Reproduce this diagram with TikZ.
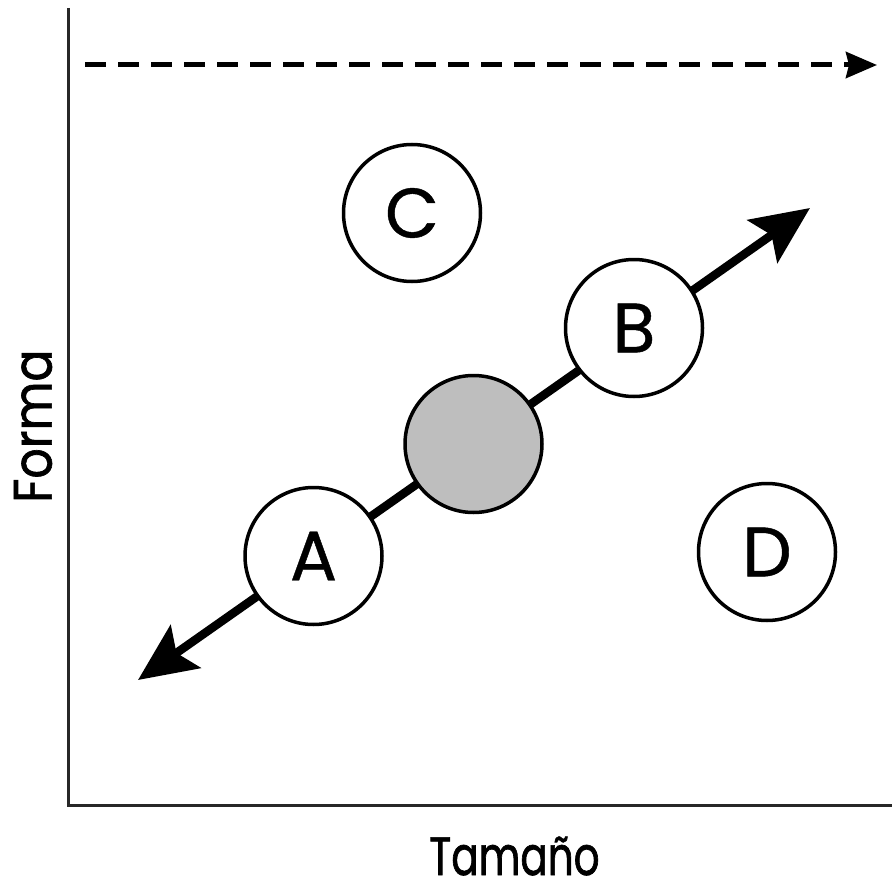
\documentclass[tikz,border=0pt]{standalone}
\usepackage{fontspec}
\setmainfont{Poppins}
\usetikzlibrary{arrows.meta}
\definecolor{fillgray}{RGB}{190,190,190}
\definecolor{axisgray}{RGB}{40,40,40}
\tikzset{
 bubble/.style={circle, draw=black, line width=3.5pt, fill=white, minimum size=137pt, inner sep=0pt, font=\fontsize{70}{70}\selectfont\addfontfeatures{FakeBold=0.6}},
 axisline/.style={draw=axisgray, line width=3pt},
 axislabel/.style={font=\fontsize{54}{54}\selectfont, inner sep=0pt},
 mainarrow/.style={line width=8.5pt, {Stealth[length=58pt,width=52pt,inset=11pt]}-{Stealth[length=58pt,width=52pt,inset=11pt]}},
 dasharrow/.style={line width=5pt, dash pattern=on 21pt off 12pt, -{Stealth[length=31pt,width=26pt,inset=3pt]}}
}
\begin{document}
\begin{tikzpicture}[x=1pt,y=-1pt]
\useasboundingbox (0,0) rectangle (892,883);
\coordinate (ytop) at (68,8);
\coordinate (origin) at (68,805);
\coordinate (xend) at (892,805);
\draw[axisline] (ytop) -- (origin) -- (xend);
\coordinate (dstart) at (85,65);
\coordinate (dend) at (877,65);
\draw[dasharrow] (dstart) -- (dend);
\coordinate (lowtip) at (138,680);
\coordinate (hightip) at (810,208);
\draw[mainarrow] (lowtip) -- (hightip);
\node[bubble] (C) at (412,213) {C};
\node[bubble] (B) at (634,328) {B};
\node[bubble, fill=fillgray] (M) at (473.5,444) {};
\node[bubble] (A) at (313.5,556) {A};
\node[bubble] (D) at (767,552) {D};
\node[axislabel, rotate=90] (forma) at (33,426) {\addfontfeatures{FakeStretch=0.88,FakeBold=1.2}Forma};
\node[axislabel, anchor=base] (tam) at (514.5,875) {\addfontfeatures{FakeStretch=0.75,FakeBold=1.2}Tamaño};
\end{tikzpicture}
\end{document}
